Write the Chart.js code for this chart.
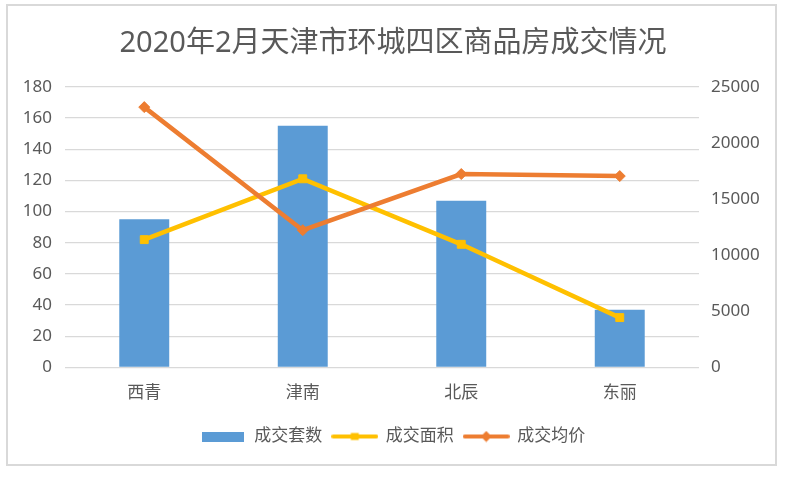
<!DOCTYPE html>
<html>
<head>
<meta charset="utf-8">
<script src="https://cdn.jsdelivr.net/npm/chart.js@4.4.0/dist/chart.umd.min.js"></script>
<style>
        body { margin: 0; background: #fff; }
        canvas { display: block; }
</style>
</head>
<body>
<canvas id="myChart" width="786" height="481"></canvas>
<script>
//du lieu
const labels = ['西青', '津南', '北辰', '东丽'];
const soTao = [95, 155, 107, 37];          // 成交套数
const dienTich = [82, 121, 79, 32];        // 成交面积
const giaTB = [23190, 12230, 17230, 17050]; // 成交均价
const leftTicks = [0, 20, 40, 60, 80, 100, 120, 140, 160, 180];
const rightTicks = [0, 5000, 10000, 15000, 20000, 25000];

const blue = '#5B9BD5';
const yellow = '#FFC000';
const orange = '#ED7D31';
const textColor = '#595959';

Chart.defaults.font.family = "'Noto Sans', 'Noto Sans CJK SC', sans-serif";
Chart.defaults.color = textColor;

// hinh nho cho chu giai
function legendIcon(kind, color) {
        let c = document.createElement('canvas');
        let ctx = c.getContext('2d');
        if (kind == 'bar') {
                c.width = 42; c.height = 10;
                ctx.fillStyle = color;
                ctx.fillRect(0, 0, 42, 10);
                return c;
        }
        c.width = 47; c.height = 12;
        ctx.strokeStyle = color;
        ctx.lineWidth = 4;
        ctx.lineCap = 'round';
        ctx.beginPath();
        ctx.moveTo(2, 6);
        ctx.lineTo(45, 6);
        ctx.stroke();
        ctx.fillStyle = color;
        ctx.beginPath();
        if (kind == 'rect') {
                ctx.rect(19.5, 2.5, 8, 7);
        } else {
                ctx.moveTo(23.5, 0.5);
                ctx.lineTo(29, 6);
                ctx.lineTo(23.5, 11.5);
                ctx.lineTo(18, 6);
                ctx.closePath();
        }
        ctx.fill();
        return c;
}
const icons = [legendIcon('bar', blue), legendIcon('rect', yellow), legendIcon('rectRot', orange)];

// khung ngoai
const framePlugin = {
        id: 'frame',
        beforeDraw(chart) {
                let ctx = chart.ctx;
                ctx.save();
                ctx.fillStyle = '#fff';
                ctx.fillRect(0, 0, chart.width, chart.height);
                ctx.strokeStyle = '#d9d9d9';
                ctx.lineWidth = 2;
                ctx.strokeRect(7, 5, 769, 460);
                ctx.restore();
        }
};

const data = {
        labels: labels,
        datasets: [
                {
                        type: 'bar',
                        label: '成交套数',
                        data: soTao,
                        backgroundColor: blue,
                        yAxisID: 'y',
                        order: 3,
                        categoryPercentage: 0.8,
                        barPercentage: 0.394
                },
                {
                        type: 'line',
                        label: '成交面积',
                        data: dienTich,
                        borderColor: yellow,
                        backgroundColor: yellow,
                        borderWidth: 4.5,
                        pointStyle: 'rect',
                        pointRadius: 5.6,
                        pointBorderWidth: 1,
                        yAxisID: 'y',
                        order: 2
                },
                {
                        type: 'line',
                        label: '成交均价',
                        data: giaTB,
                        borderColor: orange,
                        backgroundColor: orange,
                        borderWidth: 4.5,
                        pointStyle: 'rectRot',
                        pointRadius: 5.5,
                        pointBorderWidth: 1,
                        yAxisID: 'y1',
                        order: 1
                }
        ]
};

const config = {
        type: 'bar',
        data: data,
        plugins: [framePlugin],
        options: {
                responsive: false,
                animation: false,
                devicePixelRatio: 1,
                layout: { padding: { left: 0, right: 0, top: 0, bottom: 26 } },
                plugins: {
                        tooltip: { enabled: false },
                        title: {
                                display: true,
                                text: '2020年2月天津市环城四区商品房成交情况',
                                color: textColor,
                                font: { size: 29, weight: 'normal' },
                                padding: { top: 26, bottom: 26 }
                        },
                        legend: {
                                position: 'bottom',
                                labels: {
                                        usePointStyle: true,
                                        pointStyleWidth: 45,
                                        padding: 10,
                                        color: textColor,
                                        font: { size: 17 },
                                        generateLabels: chart => chart.data.datasets.map((ds, i) => ({
                                                text: ds.label,
                                                pointStyle: icons[i],
                                                fillStyle: ds.backgroundColor,
                                                strokeStyle: ds.backgroundColor,
                                                lineWidth: 0,
                                                fontColor: textColor,
                                                hidden: false,
                                                datasetIndex: i
                                        }))
                                }
                        }
                },
                scales: {
                        x: {
                                offset: true,
                                grid: { display: false, drawTicks: false },
                                border: { display: false },
                                ticks: { padding: 15, color: textColor, font: { size: 17 } },
                                afterFit: scale => { scale.height = 50.5; }
                        },
                        y: {
                                position: 'left',
                                min: 0,
                                max: 180,
                                afterBuildTicks: scale => { scale.ticks = leftTicks.map(v => ({ value: v })); },
                                grid: { color: '#d9d9d9', lineWidth: 1.3, drawTicks: false },
                                border: { display: false },
                                ticks: { padding: 13, color: textColor, font: { size: 17 } },
                                afterFit: scale => { scale.width = 65; }
                        },
                        y1: {
                                position: 'right',
                                min: 0,
                                max: 25000,
                                afterBuildTicks: scale => { scale.ticks = rightTicks.map(v => ({ value: v })); },
                                grid: { display: false, drawTicks: false },
                                border: { display: false },
                                ticks: {
                                        padding: 12,
                                        color: textColor,
                                        font: { size: 17 },
                                        callback: v => String(v)
                                },
                                afterFit: scale => { scale.width = 87; }
                        }
                }
        }
};

const myChart = new Chart(document.getElementById('myChart'), config);
</script>
</body>
</html>
